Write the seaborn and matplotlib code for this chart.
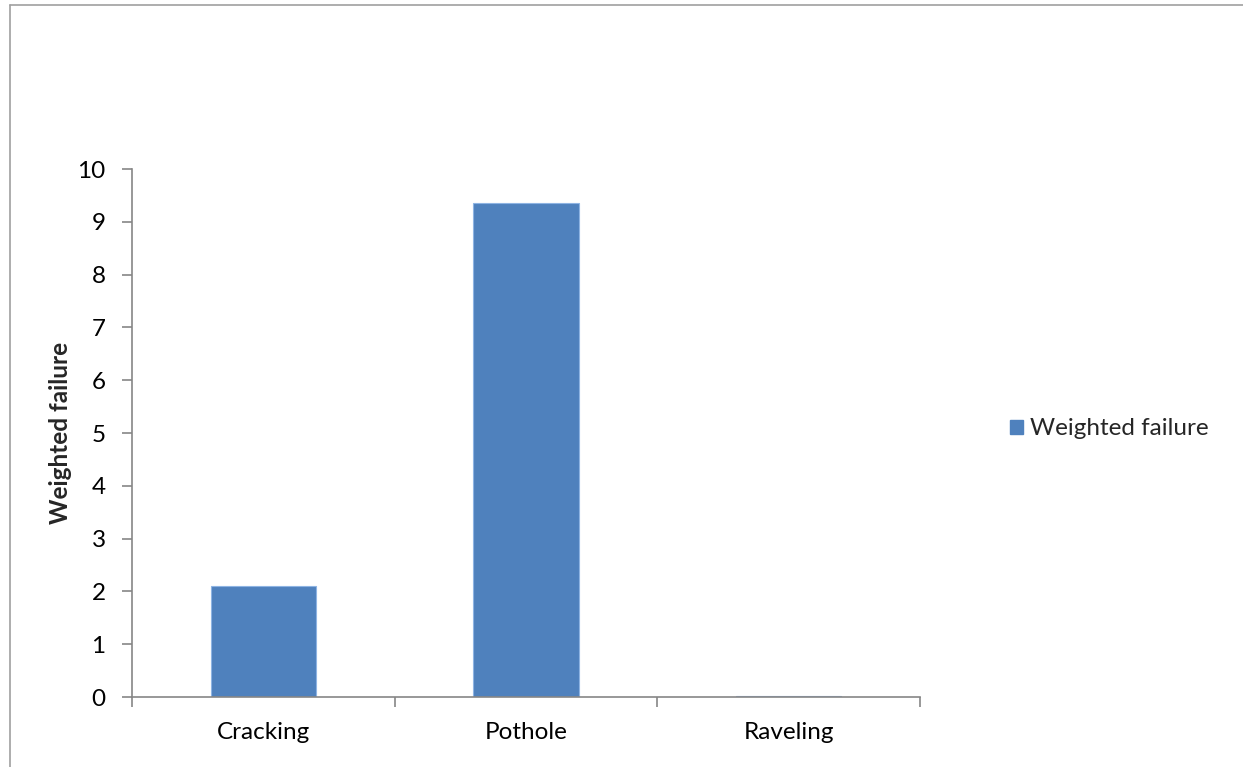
"""Bar chart of weighted failure by pavement distress type."""

import matplotlib
matplotlib.use("Agg")

import matplotlib.pyplot as plt
import pandas as pd
import seaborn as sns
from matplotlib.lines import Line2D
from matplotlib.patches import Patch

categories = ["Cracking", "Pothole", "Raveling"]
weighted_failure = [2.1, 9.36, 0.02]
y_ticks = [0, 1, 2, 3, 4, 5, 6, 7, 8, 9, 10]

BAR_COLOR = "#4F81BD"
AXIS_COLOR = "#868686"
FS = 17.5

sns.set_theme(style="white")
plt.rcParams["font.family"] = ["Lato", "DejaVu Sans"]

df = pd.DataFrame({"Category": categories, "Weighted failure": weighted_failure})

fig = plt.figure(figsize=(12.43, 7.67), dpi=100)
ax = fig.add_axes([132 / 1243, 1 - 697 / 767, (920 - 132) / 1243, (697 - 169) / 767])

sns.barplot(data=df, x="Category", y="Weighted failure", color=BAR_COLOR,
            width=0.4, edgecolor="#8EB4E3", linewidth=0.8, saturation=1, ax=ax)

ax.set_xlim(-0.5, len(categories) - 0.5)
ax.set_ylim(0, 10)
ax.set_yticks(y_ticks)
ax.set_xlabel("")
ax.set_ylabel("Weighted failure", fontsize=FS, fontweight="bold", labelpad=4)

ax.set_xticks(range(len(categories)))
ax.set_xticks([i - 0.5 for i in range(len(categories) + 1)], minor=True)
ax.tick_params(axis="x", which="major", length=0, labelsize=FS, pad=18, colors="black")
ax.tick_params(axis="x", which="minor", length=7, width=1.2, color=AXIS_COLOR, direction="out")
ax.tick_params(axis="y", length=7, width=1.2, color=AXIS_COLOR, direction="out",
               labelsize=FS, pad=12, labelcolor="black")
ax.xaxis.set_tick_params(which="both", bottom=True)
ax.yaxis.set_tick_params(left=True)

for side in ["top", "right"]:
    ax.spines[side].set_visible(False)
for side in ["left", "bottom"]:
    ax.spines[side].set_color(AXIS_COLOR)
    ax.spines[side].set_linewidth(1.2)

handle = Patch(facecolor=BAR_COLOR, edgecolor=BAR_COLOR, label="Weighted failure")
fig.legend(handles=[handle], loc="center left", bbox_to_anchor=(1010 / 1243, 1 - 429 / 767),
           frameon=False, fontsize=FS, handlelength=0.53, handleheight=0.53,
           handletextpad=0.3, borderaxespad=0, borderpad=0)

# outer chart border (top and left edges are visible in the reference)
fig.add_artist(Line2D([10 / 1243, 10 / 1243], [0, 1 - 5 / 767], color="#A0A0A0", linewidth=1.2))
fig.add_artist(Line2D([10 / 1243, 1], [1 - 5 / 767, 1 - 5 / 767], color="#A0A0A0", linewidth=1.2))

fig.savefig("out.png", dpi=100)
plt.close(fig)
